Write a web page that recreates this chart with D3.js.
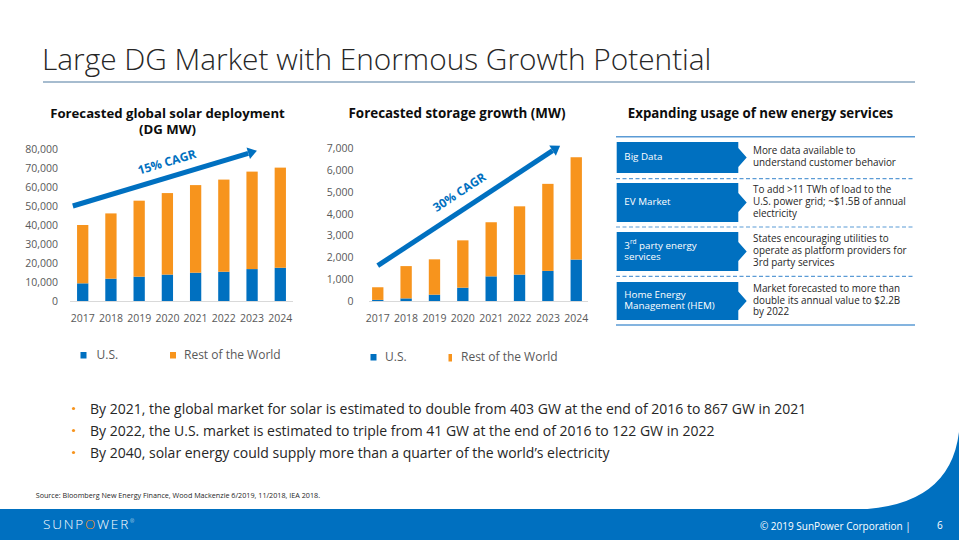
<!DOCTYPE html>
<html><head><meta charset="utf-8">
<script src="https://cdn.jsdelivr.net/npm/d3@7"></script>
<style>
html,body{margin:0;padding:0;background:#fff;}
svg{display:block;font-family:"Open Sans",sans-serif;}
</style></head>
<body><svg id="c" width="959" height="540"></svg>
<script>
const years = ["2017","2018","2019","2020","2021","2022","2023","2024"];
const solarUS  = [9300,11750,12800,13900,14900,15400,16800,17500];
const solarROW = [30700,34350,40000,42900,46100,48500,51300,52700];
const storUS   = [50,120,290,610,1130,1210,1380,1900];
const storROW  = [580,1480,1620,2170,2480,3130,3990,4690];
const solarTicks = [0,10000,20000,30000,40000,50000,60000,70000,80000];
const storTicks  = [0,1000,2000,3000,4000,5000,6000,7000];
const seriesNames = ["U.S.","Rest of the World"];
const solarCagr = {label:"15% CAGR", from:[-0.35,50000], to:[6.17,79100], text:[2.99,72600]};
const storCagr  = {label:"30% CAGR", from:[0.0,1620], to:[6.43,7120], text:[2.9,4950]};
const services = [
  {name:["Big Data"], desc:["More data available to","understand customer behavior"]},
  {name:["EV Market"], desc:["To add >11 TWh of load to the","U.S. power grid; ~$1.5B of annual","electricity"]},
  {name:["3|rd| party energy","services"], desc:["States encouraging utilities to","operate as platform providers for","3rd party services"]},
  {name:["Home Energy","Management (HEM)"], desc:["Market forecasted to more than","double its annual value to $2.2B","by 2022"]}
];
const bullets = [
  "By 2021, the global market for solar is estimated to double from 403 GW at the end of 2016 to 867 GW in 2021",
  "By 2022, the U.S. market is estimated to triple from 41 GW at the end of 2016 to 122 GW in 2022",
  "By 2040, solar energy could supply more than a quarter of the world\u2019s electricity"
];

const BLUE="#0070c0", ORANGE="#f7941d", GRAY="#595959";
const svg = d3.select("#c");

// Title
svg.append("text").attr("x",42).attr("y",70).attr("font-size",29.8).attr("font-weight",300)
  .attr("fill","#262626").text("Large DG Market with Enormous Growth Potential");
svg.append("line").attr("x1",43).attr("x2",915).attr("y1",82).attr("y2",82)
  .attr("stroke","#a6bccf").attr("stroke-width",2);

function chart(opt){
  const g = svg.append("g");
  const x = d3.scaleBand().domain(years).range(opt.xr).paddingInner(0.6).paddingOuter(0.25);
  const y = d3.scaleLinear().domain([0,opt.max]).range([301,opt.top]);
  const xi = d3.scaleLinear().domain([0,1]).range([x(years[0])+x.bandwidth()/2, x(years[1])+x.bandwidth()/2]);
  opt.title.forEach((t,i)=>{
    g.append("text").attr("x",opt.tx).attr("y",117.5+i*16).attr("text-anchor","middle")
     .attr("font-size",opt.tfs).attr("font-weight",700).attr("fill","#0d0d0d").text(t);
  });
  const ya = d3.axisLeft(y).tickValues(opt.ticks).tickSize(0).tickPadding(0).tickFormat(d3.format(","));
  const yg = g.append("g").attr("transform",`translate(${opt.ylx},0)`).call(ya);
  yg.select(".domain").remove();
  yg.selectAll("text").attr("font-size",10.5).attr("fill",GRAY).attr("font-family","Open Sans");
  const stack = years.map((yr,i)=>({yr, us:opt.us[i], row:opt.row[i]}));
  g.selectAll(".us").data(stack).join("rect").attr("x",d=>x(d.yr)).attr("width",x.bandwidth())
    .attr("y",d=>y(d.us)).attr("height",d=>y(0)-y(d.us)).attr("fill",BLUE);
  g.selectAll(".row").data(stack).join("rect").attr("x",d=>x(d.yr)).attr("width",x.bandwidth())
    .attr("y",d=>y(d.us+d.row)).attr("height",d=>y(d.us)-y(d.us+d.row)).attr("fill",ORANGE);
  g.append("line").attr("x1",opt.xl[0]).attr("x2",opt.xl[1]).attr("y1",301.5).attr("y2",301.5)
    .attr("stroke","#d9d9d9").attr("stroke-width",1);
  const xa = d3.axisBottom(x).tickSize(0).tickPadding(0);
  const xg = g.append("g").attr("transform","translate(0,322)").call(xa);
  xg.select(".domain").remove();
  xg.selectAll("text").attr("font-size",10.5).attr("fill",GRAY).attr("font-family","Open Sans").attr("dy",0);
  const a = opt.cagr;
  const x0 = xi(a.from[0]), y0 = y(a.from[1]), x1 = xi(a.to[0]), y1 = y(a.to[1]);
  const ang = Math.atan2(y1-y0, x1-x0);
  const hl = 9, hw = 6;
  const bx = x1 - hl*Math.cos(ang), by = y1 - hl*Math.sin(ang);
  g.append("line").attr("x1",x0).attr("y1",y0).attr("x2",bx).attr("y2",by)
    .attr("stroke",BLUE).attr("stroke-width",5);
  g.append("path").attr("fill",BLUE).attr("d",
    `M${x1},${y1}L${bx - hw*Math.sin(ang)},${by + hw*Math.cos(ang)}L${bx + hw*Math.sin(ang)},${by - hw*Math.cos(ang)}Z`);
  const tx = xi(a.text[0]), ty = y(a.text[1]);
  g.append("text").attr("transform",`translate(${tx},${ty}) rotate(${ang*180/Math.PI})`)
    .attr("text-anchor","middle").attr("dominant-baseline","middle")
    .attr("font-size",12).attr("font-weight",700).attr("fill",BLUE).text(a.label);
  const lg = g.append("g");
  opt.leg.forEach((L,i)=>{
    lg.append("rect").attr("x",L.x).attr("y",L.y).attr("width",L.w).attr("height",L.h)
      .attr("fill",i===0?BLUE:ORANGE);
    lg.append("text").attr("x",L.tx).attr("y",L.ty).attr("font-size",12).attr("fill",GRAY)
      .attr("dominant-baseline","middle").text(seriesNames[i]);
  });
}

chart({xr:[70,293], xl:[70,293], top:149, max:80000, ticks:solarTicks, ylx:58,
  us:solarUS,row:solarROW, title:["Forecasted global solar deployment","(DG MW)"], tx:167.5, tfs:13.2,
  cagr:solarCagr,
  leg:[{x:80.5,y:352,w:6,h:6.5,tx:96.5,ty:356},{x:170,y:352,w:6,h:6.5,tx:184,ty:356}]});
chart({xr:[365,589], xl:[369,588], top:148.3, max:7000, ticks:storTicks, ylx:353.5,
  us:storUS,row:storROW, title:["Forecasted storage growth (MW)"], tx:457, tfs:13.4,
  cagr:storCagr,
  leg:[{x:370.5,y:354,w:6,h:6.5,tx:385,ty:358},{x:448.5,y:354,w:3.5,h:7.5,tx:461,ty:358}]});

// Services table
svg.append("text").attr("x",760.5).attr("y",117.5).attr("text-anchor","middle")
  .attr("font-size",13.3).attr("font-weight",700).attr("fill","#0d0d0d").text("Expanding usage of new energy services");
const rows = [{t:142,b:173},{t:183,b:222},{t:232,b:271},{t:282,b:320}];
const sep = [136.7,178.7,227,276.3,325];
sep.forEach((yy,i)=>{
  const solid = (i===0||i===sep.length-1);
  svg.append("line").attr("x1",616).attr("x2",915).attr("y1",yy).attr("y2",yy)
    .attr("stroke","#5b9bd5").attr("stroke-width",solid?1.5:1.2)
    .attr("stroke-dasharray",solid?null:"4,2.5");
});
services.forEach((s,i)=>{
  const r = rows[i], m = (r.t+r.b)/2;
  svg.append("path").attr("fill",BLUE).attr("d",
    `M616.7,${r.t}H738.3V${m-9.5}L746.7,${m}L738.3,${m+9.5}V${r.b}H616.7Z`);
  const n = s.name.length;
  s.name.forEach((t,j)=>{
    const tt = svg.append("text").attr("x",624.3).attr("y",m+(j-(n-1)/2)*11.7)
      .attr("dominant-baseline","middle").attr("font-size",9.8).attr("fill","#fff");
    if(t.includes("|")){
      const p=t.split("|");
      tt.append("tspan").text(p[0]);
      tt.append("tspan").attr("font-size",6.5).attr("dy",-3.5).text(p[1]);
      tt.append("tspan").attr("dy",3.5).text(p[2]);
    } else tt.text(t);
  });
  const k = s.desc.length;
  s.desc.forEach((t,j)=>{
    svg.append("text").attr("x",753).attr("y",m+(j-(k-1)/2)*11.8)
      .attr("dominant-baseline","middle").attr("font-size",9.9).attr("fill","#262626").text(t);
  });
});

// Bullets
bullets.forEach((b,i)=>{
  const yy = 413.5 + i*22;
  svg.append("circle").attr("cx",73.5).attr("cy",yy-5).attr("r",1.6).attr("fill",ORANGE);
  svg.append("text").attr("x",90).attr("y",yy).attr("font-size",14).attr("fill","#262626").text(b);
});

// Source
svg.append("text").attr("x",35.7).attr("y",498).attr("font-size",7.2).attr("fill","#262626")
  .text("Source:  Bloomberg New Energy Finance, Wood Mackenzie 6/2019, 11/2018, IEA 2018.");

// Footer
svg.append("path").attr("fill",BLUE).attr("d","M856,509.5Q950,507 959,432L959,509.5Z");
svg.append("rect").attr("x",0).attr("y",509).attr("width",959).attr("height",31).attr("fill",BLUE);
const logo = svg.append("text").attr("x",43).attr("y",529).attr("font-size",13.5).attr("font-weight",300)
  .attr("letter-spacing",1.8).attr("fill","#fff");
logo.append("tspan").text("SUNP");
logo.append("tspan").attr("fill",ORANGE).text("O");
logo.append("tspan").text("WER");
logo.append("tspan").attr("font-size",5).attr("dy",-6).text("\u00AE");
svg.append("text").attr("x",910.7).attr("y",529.5).attr("text-anchor","end").attr("font-size",10)
  .attr("fill","#fff").text("\u00A9 2019 SunPower Corporation |");
svg.append("text").attr("x",937).attr("y",529).attr("font-size",10).attr("fill","#fff").text("6");
</script></body></html>
